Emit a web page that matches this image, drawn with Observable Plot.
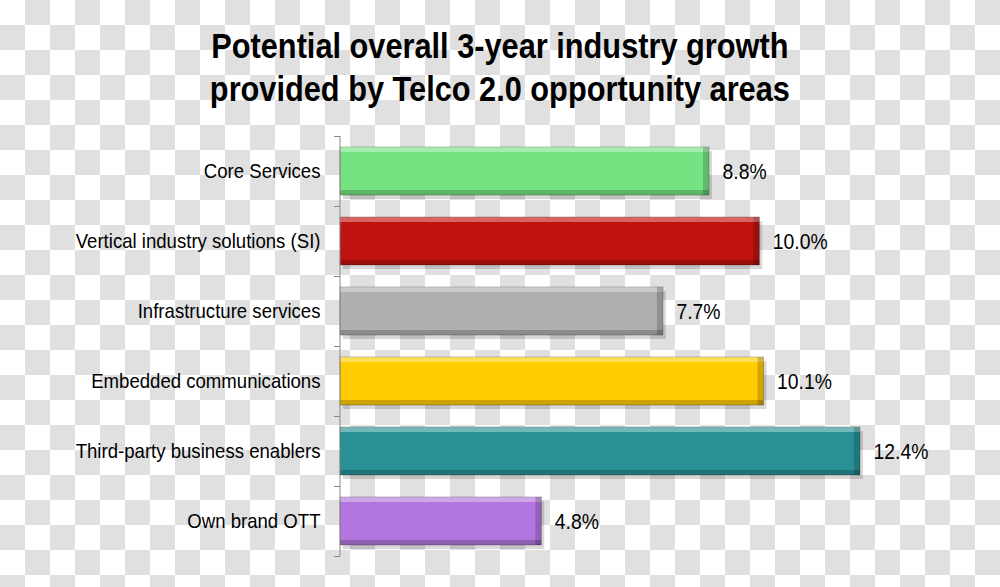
<!DOCTYPE html>
<html>
<head>
<meta charset="utf-8">
<script src="https://cdn.jsdelivr.net/npm/d3@7"></script>
<script src="https://cdn.jsdelivr.net/npm/@observablehq/plot@0.6"></script>
<style>
  html, body { margin: 0; padding: 0; }
  body {
    width: 1000px; height: 587px; overflow: hidden;
    background: repeating-conic-gradient(#e0e0e0 0 25%, #ffffff 0 50%) 0 0 / 50px 50px;
    font-family: "Liberation Sans", Arial, sans-serif;
  }
  #title {
    height: 120px; box-sizing: border-box; padding-top: 24px;
    text-align: center; font-weight: bold; font-size: 35px; line-height: 43px; color: #000;
    transform: scaleX(0.878); transform-origin: 499px 0;
  }
  #chart svg { display: block; }
</style>
</head>
<body>
<div id="title">Potential overall 3-year industry growth<br>provided by Telco 2.0 opportunity areas</div>
<div id="chart"></div>
<script>
const categories = ["Core Services", "Vertical industry solutions (SI)", "Infrastructure services", "Embedded communications", "Third-party business enablers", "Own brand OTT"];
const values = [8.8, 10.0, 7.7, 10.1, 12.4, 4.8];
const valueLabels = ["8.8%", "10.0%", "7.7%", "10.1%", "12.4%", "4.8%"];
const colors = ["#76e383", "#c0130f", "#b0b0b0", "#ffcc00", "#279196", "#b276de"];

const data = categories.map((c, i) => ({category: c, value: values[i], label: valueLabels[i], color: colors[i]}));
const last = categories[categories.length - 1];

const barOpts = {y: "category", x: "value", insetTop: 11, insetBottom: 11};

const plot = Plot.plot({
  width: 1000,
  height: 467,
  marginTop: 16,
  marginBottom: 31,
  marginLeft: 340,
  marginRight: 31,
  style: {background: "transparent", fontFamily: "\"Liberation Sans\", Arial, sans-serif", color: "#000"},
  x: {domain: [0, 15], axis: null},
  y: {domain: categories, padding: 0, axis: null},
  marks: [
    Plot.barX(data, {...barOpts, fill: "#000", fillOpacity: 0.15, dx: 3, dy: 4}),
    Plot.barX(data, {...barOpts, fill: "color", stroke: "#000", strokeOpacity: 0.25}),
    Plot.barX(data, {y: "category", x: "value", insetTop: 11, insetBottom: 54, fill: "#fff", fillOpacity: 0.35}),
    Plot.barX(data, {y: "category", x: "value", insetTop: 54, insetBottom: 11, fill: "#000", fillOpacity: 0.2}),
    Plot.barX(data, {y: "category", x1: "value", x2: "value", insetLeft: -6, insetTop: 11, insetBottom: 11, fill: "#000", fillOpacity: 0.18}),
    Plot.ruleX([0], {stroke: "#888", dx: -0.5}),
    Plot.axisY({ticks: categories, tickSize: 6, dy: -35, tickFormat: () => "", stroke: "#888", label: null}),
    Plot.axisY({ticks: [last], tickSize: 6, dy: 35, tickFormat: () => "", stroke: "#888", label: null}),
    Plot.axisY({ticks: categories, tickSize: 0, tickPadding: 20, fontSize: 20, label: null}),
    Plot.text(data, {y: "category", x: "value", text: "label", dx: 13, textAnchor: "start", fontSize: 22, fill: "#000"})
  ]
});
// condense the text horizontally (narrow face), scaling about each label's anchor
function condense(sel, k) {
  d3.select(plot).selectAll(sel).each(function() {
    const t = this.getAttribute("transform") || "";
    this.setAttribute("transform", t + ` scale(${k},1)`);
  });
}
condense('g[aria-label="y-axis tick label"] text', 0.93);
condense('g[aria-label="text"] text', 0.88);
document.getElementById("chart").appendChild(plot);
</script>
</body>
</html>
